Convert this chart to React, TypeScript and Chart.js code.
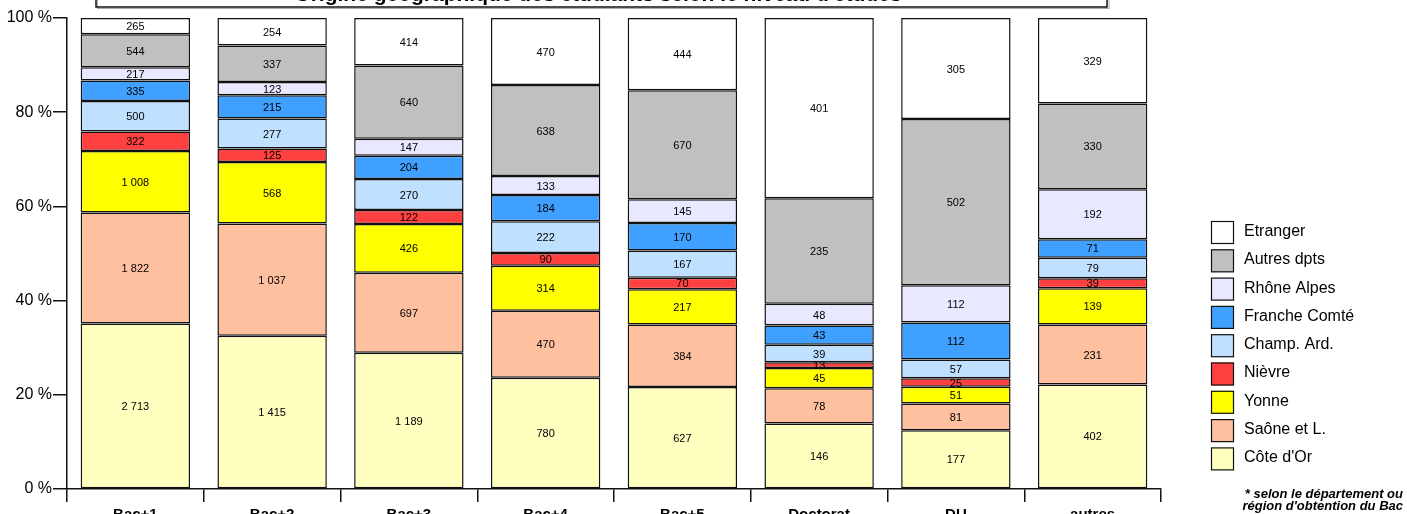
import React, { useEffect, useRef } from "react";
import { Chart, registerables } from "chart.js";

Chart.register(...registerables);

const categories = ["Bac+1", "Bac+2", "Bac+3", "Bac+4", "Bac+5", "Doctorat", "DU", "autres"];
const seriesLabels = [
  "Côte d'Or",
  "Saône et L.",
  "Yonne",
  "Nièvre",
  "Champ. Ard.",
  "Franche Comté",
  "Rhône Alpes",
  "Autres dpts",
  "Etranger",
];
const coteDOr = [2713, 1415, 1189, 780, 627, 146, 177, 402];
const saoneEtL = [1822, 1037, 697, 470, 384, 78, 81, 231];
const yonne = [1008, 568, 426, 314, 217, 45, 51, 139];
const nievre = [322, 125, 122, 90, 70, 13, 25, 39];
const champArd = [500, 277, 270, 222, 167, 39, 57, 79];
const francheComte = [335, 215, 204, 184, 170, 43, 112, 71];
const rhoneAlpes = [217, 123, 147, 133, 145, 48, 112, 192];
const autresDpts = [544, 337, 640, 638, 670, 235, 502, 330];
const etranger = [265, 254, 414, 470, 444, 401, 305, 329];
const yTicks = [0, 20, 40, 60, 80, 100];

const seriesColors = [
  "#FFFFC0",
  "#FFC0A0",
  "#FFFF00",
  "#FF4040",
  "#C0E0FF",
  "#40A0FF",
  "#E8E8FF",
  "#C0C0C0",
  "#FFFFFF",
];

const titleText = "Origine géographique des étudiants selon le niveau d'études*";
const footLines = ["* selon le département ou", "région d'obtention du Bac"];

const FONT = "'Liberation Sans', Arial, Helvetica, sans-serif";

const fmt = (n: number) => n.toString().replace(/\B(?=(\d{3})+(?!\d))/g, " ");

export default function App() {
  const ref = useRef<HTMLCanvasElement | null>(null);

  useEffect(() => {
    if (!ref.current) return;
    const counts = [coteDOr, saoneEtL, yonne, nievre, champArd, francheComte, rhoneAlpes, autresDpts, etranger];
    const totals = categories.map((_, j) => counts.reduce((s, arr) => s + arr[j], 0));

    const datasets = counts.map((arr, i) => ({
      label: seriesLabels[i],
      data: arr.map((v, j) => (v / totals[j]) * 100),
      backgroundColor: seriesColors[i],
      borderColor: "#111",
      borderWidth: 1.5,
      borderSkipped: false as const,
      barPercentage: 0.8,
      categoryPercentage: 1,
    }));

    const extras = {
      id: "extras",
      afterDatasetsDraw(chart: any) {
        const ctx = chart.ctx;
        ctx.save();
        ctx.fillStyle = "#000";
        ctx.font = `11px ${FONT}`;
        ctx.textAlign = "center";
        ctx.textBaseline = "middle";
        chart.data.datasets.forEach((_: any, i: number) => {
          const meta = chart.getDatasetMeta(i);
          meta.data.forEach((el: any, j: number) => {
            const p = el.getProps(["x", "y", "base"], true);
            ctx.fillText(fmt(counts[i][j]), p.x, (p.y + p.base) / 2 + 1);
          });
        });
        ctx.restore();
      },
      afterDraw(chart: any) {
        const ctx = chart.ctx;
        ctx.save();
        // title box (cut at top)
        ctx.strokeStyle = "#aaa";
        ctx.lineWidth = 1;
        ctx.strokeRect(97.5, -40, 1011.5, 48.5);
        ctx.strokeStyle = "#111";
        ctx.lineWidth = 1.5;
        ctx.strokeRect(96, -40, 1011, 47);
        ctx.fillStyle = "#000";
        ctx.font = `bold 21px ${FONT}`;
        ctx.textAlign = "center";
        ctx.textBaseline = "alphabetic";
        ctx.fillText(titleText, 602, 1);

        // legend
        const n = chart.data.datasets.length;
        ctx.font = `16px ${FONT}`;
        ctx.textAlign = "left";
        ctx.textBaseline = "middle";
        for (let k = 0; k < n; k++) {
          const i = n - 1 - k;
          const ds = chart.data.datasets[i];
          const top = 221 + k * 28.3;
          ctx.fillStyle = ds.backgroundColor;
          ctx.fillRect(1211, top, 23, 23);
          ctx.strokeStyle = "#111";
          ctx.lineWidth = 1.2;
          ctx.strokeRect(1211.5, top + 0.5, 22, 22);
          ctx.fillStyle = "#000";
          ctx.fillText(ds.label, 1244, top + 10.5);
        }

        // footnote
        ctx.font = `italic bold 13px ${FONT}`;
        ctx.textAlign = "right";
        ctx.textBaseline = "middle";
        ctx.fillText(footLines[0], 1403, 494);
        ctx.fillText(footLines[1], 1403, 506);
        ctx.restore();
      },
    };

    const chart = new Chart(ref.current, {
      type: "bar",
      data: { labels: categories, datasets },
      options: {
        animation: false,
        responsive: false,
        devicePixelRatio: 1,
        layout: { padding: { top: 18, right: 246, bottom: 0, left: 0 } },
        plugins: {
          legend: { display: false },
          tooltip: { enabled: false },
          title: { display: false },
        },
        scales: {
          x: {
            stacked: true,
            offset: true,
            grid: {
              offset: true,
              drawOnChartArea: false,
              drawTicks: true,
              tickLength: 13,
              color: "#111",
              lineWidth: 1.5,
            },
            border: { display: true, color: "#111", width: 1.5 },
            ticks: {
              color: "#000",
              font: { family: FONT, size: 15, weight: "bold" },
              padding: 4,
              maxRotation: 0,
              autoSkip: false,
            },
            afterFit(scale: any) {
              scale.height = 25;
            },
          },
          y: {
            stacked: true,
            min: 0,
            max: 100,
            afterBuildTicks(scale: any) {
              scale.ticks = yTicks.map((v) => ({ value: v }));
            },
            grid: {
              drawOnChartArea: false,
              drawTicks: true,
              tickLength: 14,
              color: "#111",
              lineWidth: 1.5,
            },
            border: { display: true, color: "#111", width: 1.5 },
            ticks: {
              color: "#000",
              font: { family: FONT, size: 16 },
              padding: 1,
              callback: (v: any) => `${v} %`,
            },
            afterFit(scale: any) {
              scale.width = 67;
            },
          },
        },
      },
      plugins: [extras],
    });

    return () => chart.destroy();
  }, []);

  return (
    <div style={{ position: "fixed", left: 0, top: 0, width: 1407, height: 514, background: "#fff" }}>
      <canvas ref={ref} width={1407} height={514} style={{ width: 1407, height: 514, display: "block" }} />
    </div>
  );
}
